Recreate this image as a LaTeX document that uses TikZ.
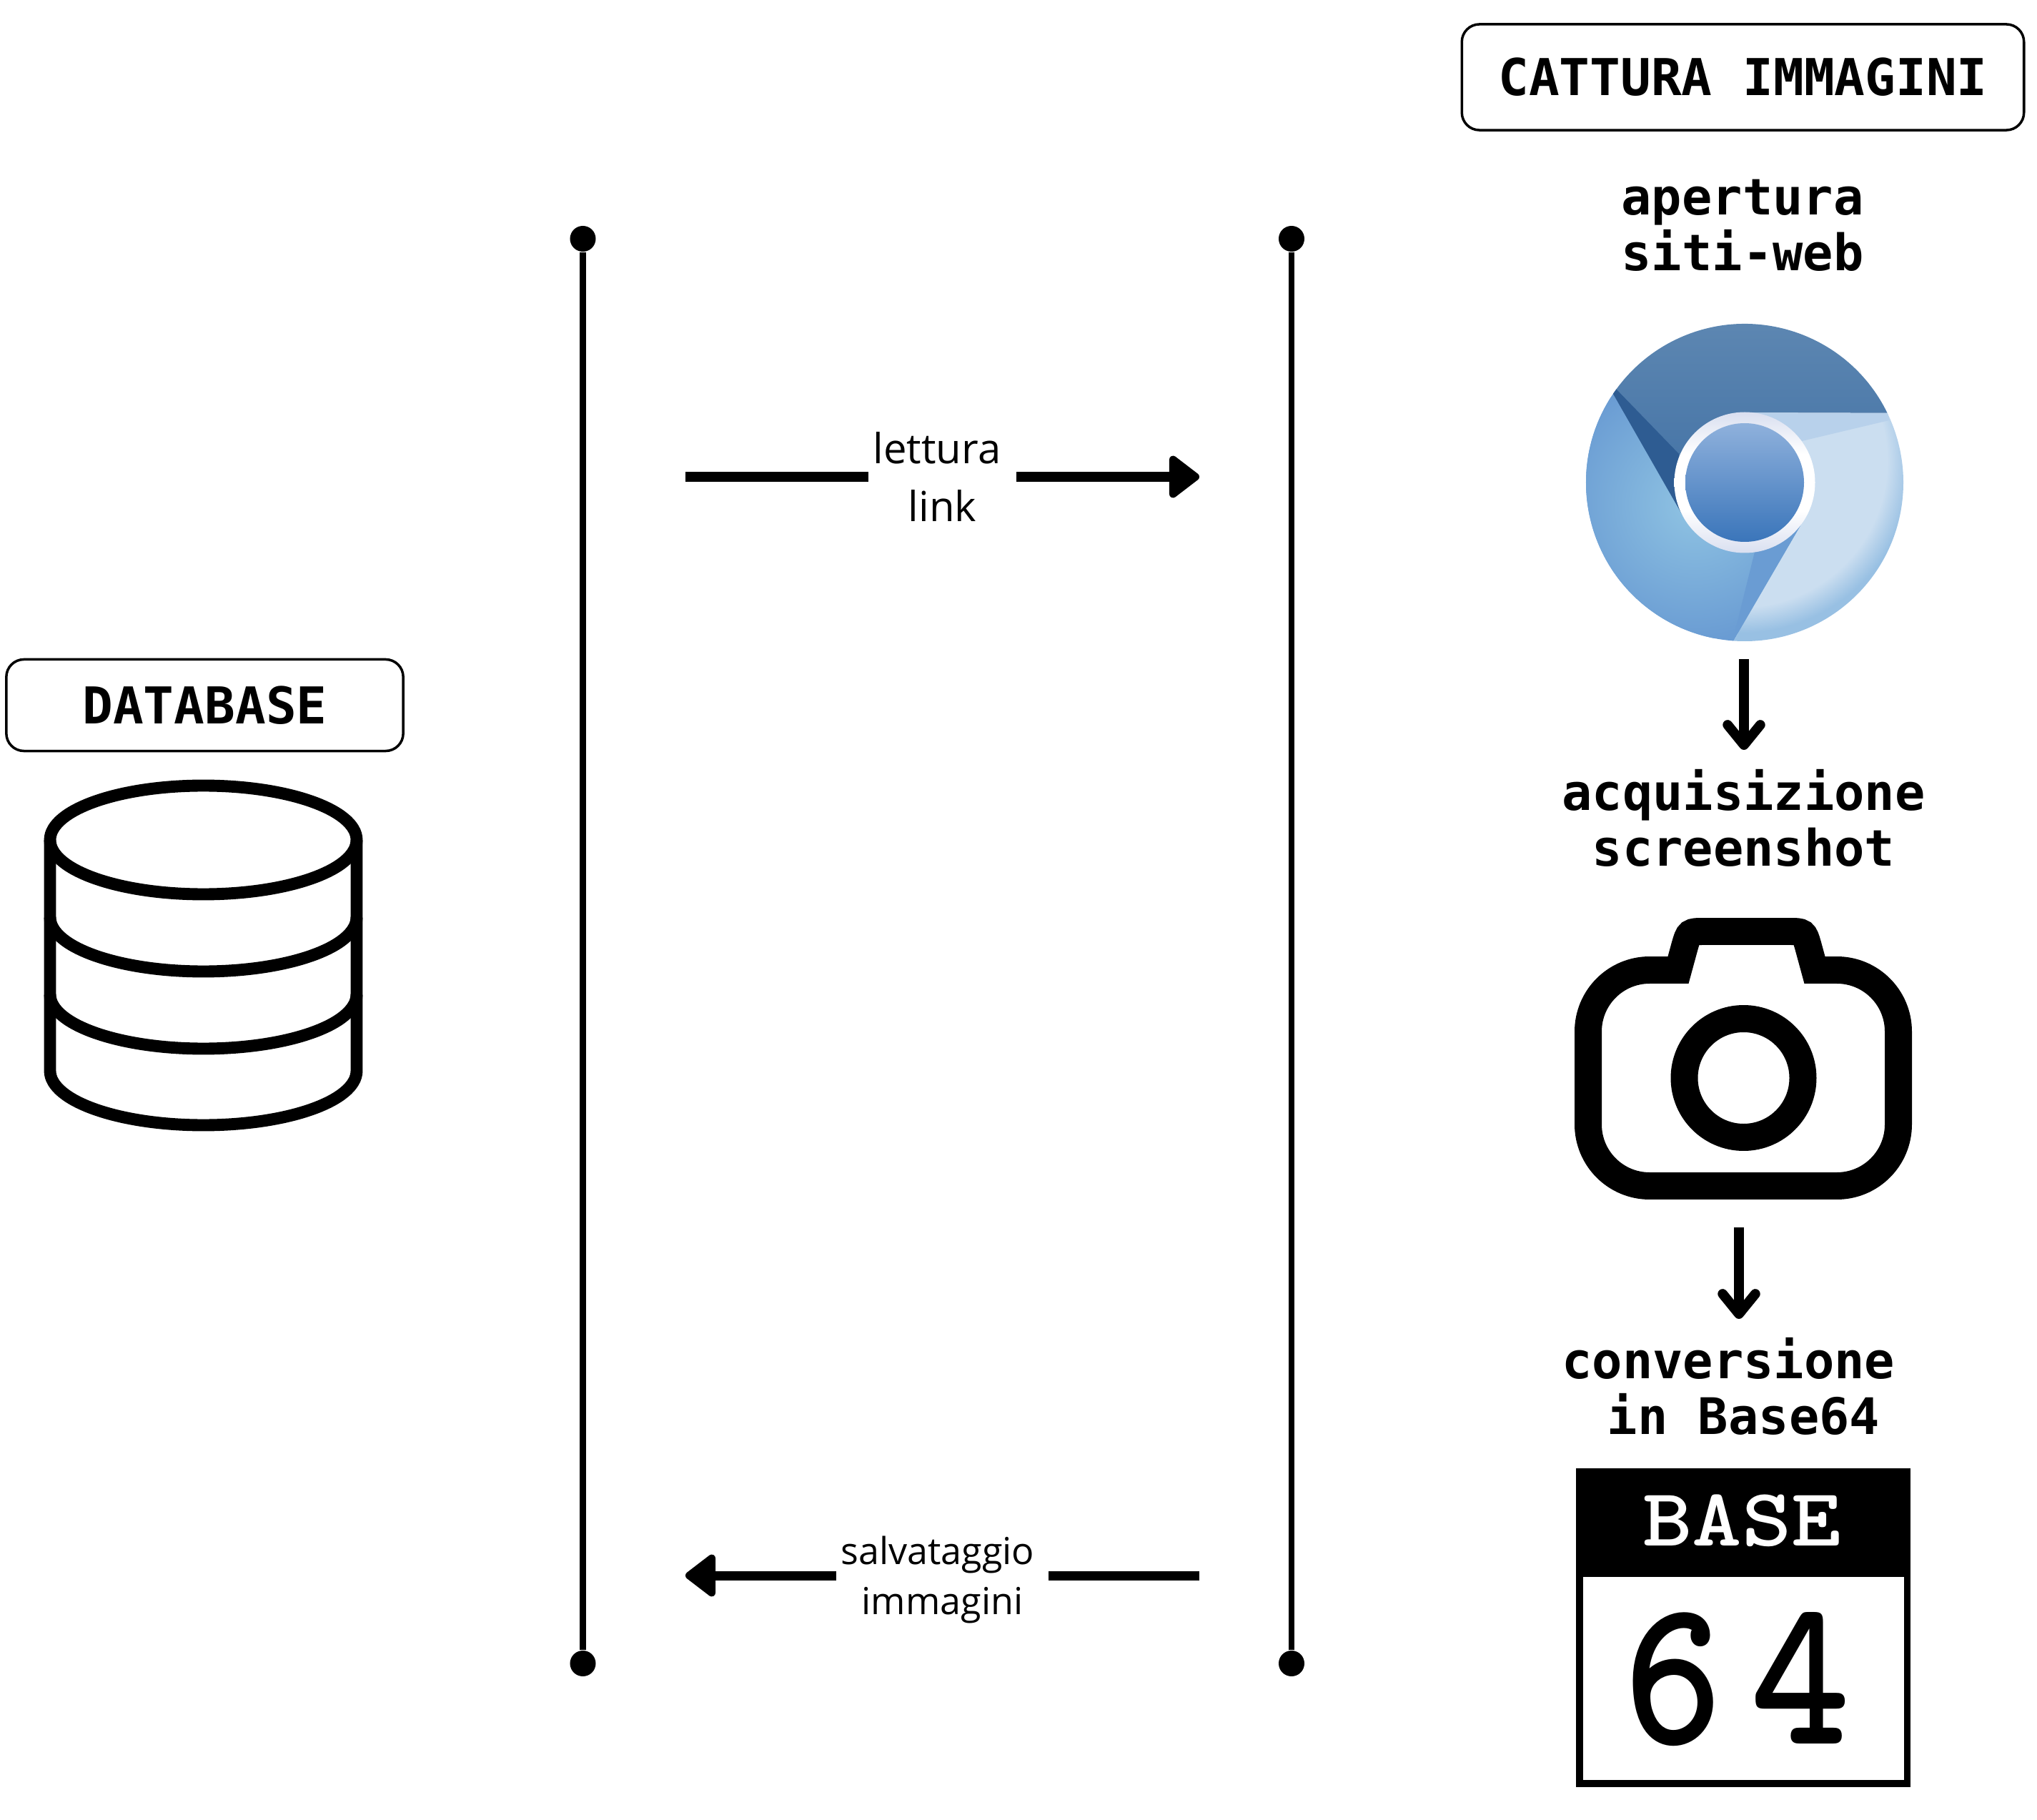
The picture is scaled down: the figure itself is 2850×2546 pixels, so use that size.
\documentclass[tikz,border=0pt]{standalone}
\usepackage{fontspec}
\setmainfont{Open Sans}
\newfontfamily\stepfont{DejaVu Sans Mono}
\usepackage{xcolor}
\usetikzlibrary{arrows.meta}

\definecolor{chrometop}{HTML}{6089B3}
\definecolor{chromemid}{HTML}{3F6FA3}
\definecolor{chromedark}{HTML}{2E5C92}
\definecolor{chromeglow}{HTML}{90C4E3}
\definecolor{chromeleft}{HTML}{6A9CD3}
\definecolor{chromepale}{HTML}{CBDEF0}
\definecolor{chromerim}{HTML}{98C0E3}
\definecolor{chromeband}{HTML}{B8D1EB}
\definecolor{chromering}{HTML}{D9DFF0}
\definecolor{chromehigh}{HTML}{8FB1DC}
\definecolor{chromelow}{HTML}{3A75BA}

\pgfdeclareradialshading{rightrim}{\pgfpointorigin}{color(0bp)=(chromepale); color(17bp)=(chromepale); color(20bp)=(chromerim); color(50bp)=(chromerim)}
\pgfdeclareverticalshading{ringshade}{100bp}{color(0bp)=(chromering); color(25bp)=(chromering); color(40bp)=(white); color(60bp)=(white); color(75bp)=(chromering); color(100bp)=(chromering)}

\tikzset{
    titlebox/.style = {draw, line width = 1pt, rounded corners = 7pt, inner sep = 0pt,
        font = \stepfont\bfseries\fontsize{20.2}{22.2}\selectfont},
    steptext/.style = {align = center, inner sep = 0pt,
        font = \stepfont\bfseries\fontsize{20}{22.2}\selectfont},
    dot/.style = {circle, fill = black, inner sep = 0pt, minimum size = 0.36cm},
    busline/.style = {line width = 2.5pt},
    flowarrow/.style = {line width = 3.7pt, -{Triangle[length = 13pt, width = 19pt, line width = 3pt, round]}},
    flowlabel/.style = {fill = white, align = center, inner xsep = 1.8pt, inner ysep = 0pt},
    downarrow/.style = {line width = 3.9pt, line cap = butt, -{Straight Barb[length = 8pt, width = 13pt, round]}},
    cylline/.style = {line width = 4.8pt},
    camline/.style = {line width = 10.8pt, miter limit = 10}
}

\begin{document}
\begin{tikzpicture}[x = 0.01cm, y = -0.01cm]
    \useasboundingbox (0, 0) rectangle (2850, 2546);

    \node[titlebox, minimum width = 5.55cm, minimum height = 1.28cm] (database) at (286.5, 986.5) {DATABASE};
    \node[titlebox, minimum width = 7.86cm, minimum height = 1.48cm] (cattura) at (2438.5, 108) {CATTURA IMMAGINI};

    \draw[cylline] (284.5, 1175) ellipse (214.5 and 76);
    \draw[cylline] (70, 1175) -- (70, 1498) arc[start angle = 180, end angle = 0, x radius = 214.5, y radius = 76] -- (499, 1175);
    \draw[cylline] (70, 1283) arc[start angle = 180, end angle = 0, x radius = 214.5, y radius = 76];
    \draw[cylline] (70, 1391) arc[start angle = 180, end angle = 0, x radius = 214.5, y radius = 76];

    \node[dot] (leftup) at (815.5, 334) {};
    \node[dot] (leftdown) at (815.5, 2327) {};
    \node[dot] (rightup) at (1807, 334) {};
    \node[dot] (rightdown) at (1807, 2327) {};
    \draw[busline] (leftup) -- (leftdown);
    \draw[busline] (rightup) -- (rightdown);

    \coordinate (linkfrom) at (959, 667);
    \coordinate (linkto) at (1678, 667);
    \draw[flowarrow] (linkfrom) -- node[flowlabel, font = \fontsize{16.5}{22.8}\selectfont] (linklabel) {lettura~\mbox{}\\link} (linkto);

    \coordinate (savefrom) at (1678, 2204);
    \coordinate (saveto) at (959, 2204);
    \draw[flowarrow] (savefrom) -- node[flowlabel, yshift = -0.062cm, font = \fontsize{14.8}{19.8}\selectfont] (savelabel) {salvataggio~\mbox{}\\immagini} (saveto);

    \node[steptext] (apertura) at (2438, 315) {apertura\\siti-web};
    \node[steptext] (acquisizione) at (2439.5, 1144.5) {acquisizione\\screenshot};
    \node[steptext] (conversione) at (2439.5, 1939.5) {conversione~\mbox{}\\in Base64};

    \begin{scope}[shift = {(2441, 675)}, y = 0.01cm]
        \fill[chromeleft] (146:222) arc[start angle = 146, end angle = 266, radius = 222] -- (330:98) -- (210:98) -- cycle;
        \begin{scope}
            \clip (146:222) arc[start angle = 146, end angle = 266, radius = 222] -- (330:98) -- (210:98) -- cycle;
            \shade[inner color = chromeglow, outer color = chromeleft] (-70, -30) circle (190);
            \fill[chromeleft] (14, -97) -- (-17, -222) -- (85, -49) -- cycle;
        \end{scope}
        \begin{scope}
            \clip (266:222) arc[start angle = 266, end angle = 386, radius = 222] -- (90:98) -- (330:98) -- cycle;
            \shade[shading = rightrim] (-5, 30) circle (300);
            \fill[chromeband] (0, 97) -- (201, 97) -- (202, 87) -- (80, 58) -- cycle;
        \end{scope}
        \shade[top color = chrometop, bottom color = chromemid, shading angle = 0] (26:222) arc[start angle = 26, end angle = 146, radius = 222] -- (-85, -49) -- (0, 98) -- cycle;
        \fill[chromedark] (146:222) -- (144:222) -- (-92, 40) -- (-85, -49) -- cycle;
        \shade[shading = ringshade] (0, 0) circle (98.5);
        \shade[top color = chromehigh, bottom color = chromelow] (0, 0) circle (83);
    \end{scope}

    \coordinate (chromeout) at (2440, 922);
    \coordinate (shotin) at (2440, 1049);
    \draw[downarrow] (chromeout) -- (shotin);

    \draw[camline] (2348, 1357) -- (2308, 1357) arc[start angle = 270, end angle = 180, radius = 86] -- (2222, 1573)
        arc[start angle = 180, end angle = 90, radius = 86] -- (2570, 1659) arc[start angle = 90, end angle = 0, radius = 86]
        -- (2656, 1443) arc[start angle = 0, end angle = -90, radius = 86] -- (2539, 1357) -- (2530, 1324)
        .. controls (2524, 1303) .. (2502, 1303) -- (2385, 1303) .. controls (2363, 1303) .. (2357, 1324) -- cycle;
    \draw[camline] (2439.5, 1508) circle (83);

    \coordinate (cameraout) at (2433, 1717);
    \coordinate (basein) at (2433, 1845);
    \draw[downarrow] (cameraout) -- (basein);

    \fill[black] (2205.5, 2055) rectangle (2673, 2206);
    \draw[line width = 2.6pt] (2210, 2059) rectangle (2668.5, 2495);
    \node[text = white, xscale = 1.15, inner sep = 0pt, font = \ttfamily\bfseries\fontsize{32.7}{34}\selectfont] (basetext) at (2437, 2127) {BASE};
    \node[xscale = 0.9, inner sep = 0pt, font = \ttfamily\bfseries\fontsize{84}{86}\selectfont] (basenumber) at (2430, 2349) {6\hspace{12.2pt}4};
\end{tikzpicture}
\end{document}
